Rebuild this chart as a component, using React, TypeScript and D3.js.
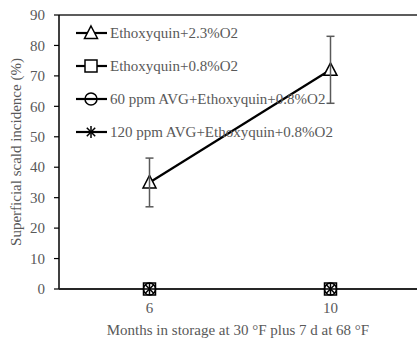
import * as d3 from "d3";
import React from "react";

const months = ["6", "10"];
const yTicks = [0, 10, 20, 30, 40, 50, 60, 70, 80, 90];
const seriesNames = [
  "Ethoxyquin+2.3%O2",
  "Ethoxyquin+0.8%O2",
  "60 ppm AVG+Ethoxyquin+0.8%O2",
  "120 ppm AVG+Ethoxyquin+0.8%O2",
];
const seriesMarkers = ["triangle", "square", "circle", "asterisk"];
const ethoxy23 = [35, 72];
const ethoxy08 = [0, 0];
const avg60 = [0, 0];
const avg120 = [0, 0];
const ethoxy23Err = [8, 11];
const seriesValues = [ethoxy23, ethoxy08, avg60, avg120];
const seriesErr = [ethoxy23Err, [0, 0], [0, 0], [0, 0]];

const W = 417, H = 341;
const m = { l: 59, r: -4, t: 15, b: 52 };
const font = "Times New Roman";
const grey = "#595959";

const Marker = ({ kind, x, y }: { kind: string; x: number; y: number }) => {
  const s = 12;
  if (kind === "triangle")
    return <path d={`M${x},${y - 7}L${x + 6.5},${y + 5.5}L${x - 6.5},${y + 5.5}Z`} fill="white" stroke="black" strokeWidth={1.5} />;
  if (kind === "square")
    return <rect x={x - s / 2} y={y - s / 2} width={s} height={s} fill="white" stroke="black" strokeWidth={1.5} />;
  if (kind === "circle")
    return <circle cx={x} cy={y} r={6} fill="none" stroke="black" strokeWidth={1.5} />;
  const r = 6;
  return (
    <g stroke="black" strokeWidth={1.5}>
      <line x1={x - r} y1={y} x2={x + r} y2={y} />
      <line x1={x} y1={y - r} x2={x} y2={y + r} />
      <line x1={x - r * 0.7} y1={y - r * 0.7} x2={x + r * 0.7} y2={y + r * 0.7} />
      <line x1={x - r * 0.7} y1={y + r * 0.7} x2={x + r * 0.7} y2={y - r * 0.7} />
    </g>
  );
};

export default function App() {
  const x = d3.scaleBand(months, [m.l, W - m.r]);
  const y = d3.scaleLinear([0, 90], [H - m.b, m.t]);
  const cx = (d: string) => (x(d) ?? 0) + x.bandwidth() / 2;
  const line = d3.line<number>().x((_, i) => cx(months[i])).y(v => y(v));
  const ts = { fontFamily: font };

  return (
    <svg width={W} height={H} style={{ position: "absolute", left: 0, top: 0, fontFamily: font }}>
      <rect width={W} height={H} fill="white" />
      {/* top border and axes */}
      <line x1={m.l} x2={W} y1={m.t} y2={m.t} stroke="#262626" strokeWidth={1.5} />
      <line x1={m.l} x2={m.l} y1={m.t} y2={y(0)} stroke="black" strokeWidth={1.5} />
      {yTicks.map(t => (
        <g key={t}>
          <line x1={m.l - 5} x2={m.l} y1={y(t)} y2={y(t)} stroke="black" strokeWidth={1.2} />
          <text style={ts} x={m.l - 14} y={y(t)} dy="0.35em" textAnchor="end" fontSize={15} fill={grey}>{t}</text>
        </g>
      ))}
      {months.map(d => (
        <text key={d} style={ts} x={cx(d)} y={y(0) + 24} textAnchor="middle" fontSize={15} fill={grey}>{d}</text>
      ))}
      <text style={ts} transform={`translate(16,${(m.t + y(0)) / 2}) rotate(-90)`} textAnchor="middle" dy="0.35em" fontSize={15} fill={grey}>
        Superficial scald incidence (%)
      </text>
      <text style={ts} x={(m.l + W) / 2} y={335} textAnchor="middle" fontSize={15} fill={grey}>
        Months in storage at 30 °F plus 7 d at 68 °F
      </text>

      {/* series lines and markers */}
      {seriesValues.map((vals, si) => (
        <path key={`l${si}`} d={line(vals) ?? ""} fill="none" stroke="black" strokeWidth={2.2} />
      ))}
      <line x1={m.l} x2={W} y1={y(0)} y2={y(0)} stroke="#262626" strokeWidth={2} />
      {seriesValues.map((vals, si) => vals.map((v, i) => (
        <Marker key={`m${si}-${i}`} kind={seriesMarkers[si]} x={cx(months[i])} y={y(v)} />
      )))}

      {/* error bars, drawn over the markers */}
      {seriesValues.map((vals, si) => vals.map((v, i) => {
        const e = seriesErr[si][i];
        if (!e) return null;
        const px = cx(months[i]);
        return (
          <g key={`e${si}-${i}`} stroke={grey} strokeWidth={1.5}>
            <line x1={px} x2={px} y1={y(v - e)} y2={y(v + e)} />
            <line x1={px - 4} x2={px + 4} y1={y(v - e)} y2={y(v - e)} />
            <line x1={px - 4} x2={px + 4} y1={y(v + e)} y2={y(v + e)} />
          </g>
        );
      }))}

      {/* legend */}
      {seriesNames.map((n, i) => {
        const ly = 33 + i * 33;
        return (
          <g key={n}>
            <line x1={76} x2={107} y1={ly} y2={ly} stroke="black" strokeWidth={2.2} />
            <Marker kind={seriesMarkers[i]} x={91} y={ly} />
            <text style={ts} x={110} y={ly} dy="0.35em" fontSize={15} fill={grey}>{n}</text>
          </g>
        );
      })}
    </svg>
  );
}
